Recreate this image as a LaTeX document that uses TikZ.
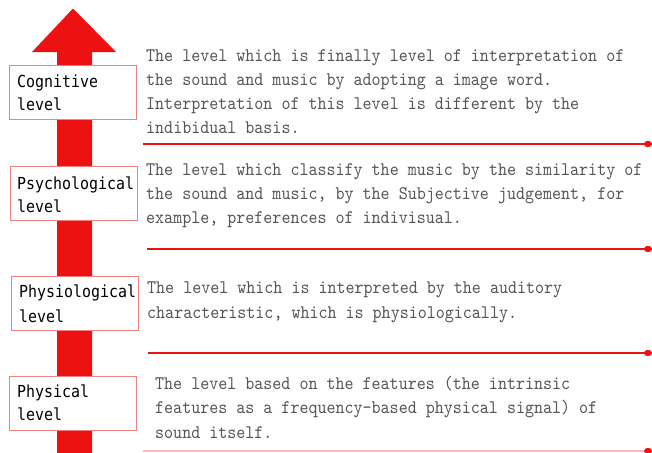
\documentclass[tikz,border=0pt]{standalone}
\usepackage{fontspec}
\newfontfamily\labelfont{DejaVu Sans Mono}[FakeStretch=0.90]
\newfontfamily\descfont{lmmono10-regular.otf}[FakeStretch=0.895]
\definecolor{arrowred}{HTML}{EE1111}
\definecolor{boxred}{HTML}{F08080}
\definecolor{txtgray}{HTML}{555555}
\definecolor{lightpink}{HTML}{F4BCBC}
\tikzset{
  levelbox/.style={draw=boxred, line width=1.2pt, fill=white, minimum width=127pt, minimum height=54pt, inner sep=0pt},
  lbltext/.style={anchor=base west, inner sep=0pt, font=\labelfont\fontsize{16.6}{23}\selectfont, align=left, text=black},
  desc/.style={anchor=base west, inner sep=0pt, font=\descfont\fontsize{19.2}{24}\selectfont, align=left, text=txtgray},
  sepline/.style={draw=arrowred, line width=1.6pt},
  enddot/.style={fill=arrowred, draw=none}
}
\begin{document}
\begin{tikzpicture}[x=1pt, y=-1pt]
\useasboundingbox (0,0) rectangle (652,452);
% big arrow
\fill[arrowred] (57,453) -- (57,52) -- (32,52) -- (73,8.5) -- (116,52) -- (92,52) -- (92,453) -- cycle;
% level boxes
\node[levelbox, anchor=north west] (b1) at (9,65) {};
\node[levelbox, anchor=north west] (b2) at (10,166) {};
\node[levelbox, anchor=north west] (b3) at (11,276) {};
\node[levelbox, anchor=north west] (b4) at (9,376) {};
% labels (anchor = baseline of last line)
\node[lbltext] (l1) at (17,110) {Cognitive\\level};
\node[lbltext] (l2) at (17,212) {Psychological\\level};
\node[lbltext, font=\labelfont\fontsize{16.6}{25}\selectfont] (l3) at (19,322) {Physiological\\level};
\node[lbltext] (l4) at (17,420) {Physical\\level};
% descriptions (anchor = baseline of last line)
\node[desc] (d1) at (146,133) {The level which is finally level of interpretation of\\the sound and music by adopting a image word.\\Interpretation of this level is different by the\\indibidual basis.};
\node[desc] (d2) at (146,223) {The level which classify the music by the similarity of\\the sound and music, by the Subjective judgement, for\\example, preferences of indivisual.};
\node[desc, font=\descfont\fontsize{19.2}{25}\selectfont] (d3) at (147,318) {The level which is interpreted by the auditory\\characteristic, which is physiologically.};
\node[desc, font=\descfont\fontsize{19.2}{24.5}\selectfont] (d4) at (155,438) {The level based on the features (the intrinsic\\features as a frequency-based physical signal) of\\sound itself.};
% separator lines
\coordinate (s1a) at (143,144); \coordinate (s1b) at (648,144);
\coordinate (s2a) at (147,249); \coordinate (s2b) at (648,249);
\coordinate (s3a) at (148,353); \coordinate (s3b) at (648,353);
\coordinate (s4a) at (143,451); \coordinate (s4b) at (648,451);
\draw[sepline] (s1a) -- (s1b);
\draw[sepline] (s2a) -- (s2b);
\draw[sepline] (s3a) -- (s3b);
\draw[sepline, draw=lightpink] (s4a) -- (s4b);
\fill[enddot] (s1b) ellipse (4pt and 3.2pt);
\fill[enddot] (s2b) ellipse (4pt and 3.2pt);
\fill[enddot] (s3b) ellipse (4pt and 3.2pt);
\fill[enddot] (s4b) ellipse (4pt and 3.2pt);
\end{tikzpicture}
\end{document}
